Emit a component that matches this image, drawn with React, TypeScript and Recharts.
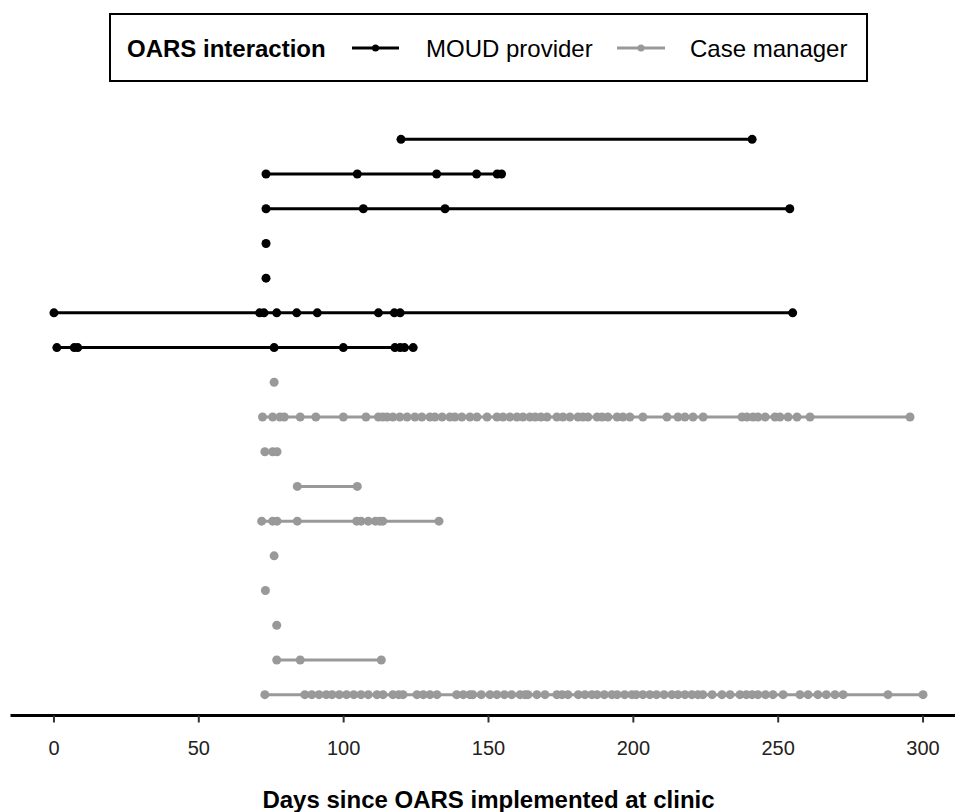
import React from 'react';
import { LineChart, Line, XAxis, YAxis, Label } from 'recharts';

const FONT = '"Liberation Sans", Arial, Helvetica, sans-serif';

const seriesNames = ['MOUD provider', 'Case manager'];
const seriesColors = ['#000000', '#999999'];
const legendTitle = 'OARS interaction';
const xTicks = [0, 50, 100, 150, 200, 250, 300];
const xLabel = 'Days since OARS implemented at clinic';

// MOUD provider rows (top to bottom)
const moud1 = [119.8, 241];
const moud2 = [73.2, 104.7, 132.1, 145.9, 153, 154.5];
const moud3 = [73.2, 106.8, 135, 254];
const moud4 = [73.2];
const moud5 = [73.2];
const moud6 = [0, 71, 72.5, 76.9, 83.8, 90.9, 112, 117.5, 119.5, 255];
const moud7 = [1, 7, 8.2, 76, 99.9, 117.7, 119.5, 121, 124];

// Case manager rows (top to bottom)
const case1 = [76];
const case2 = [
  72, 75.5, 78, 79.5, 85, 90.4, 99.9, 107.7, 112, 113.5, 115, 117, 119.4, 121.9,
  124.6, 127, 129.8, 131.5, 134, 136.7, 138.4, 140.8, 143.6, 146, 149.5, 152.9,
  155, 157.4, 159.8, 161.9, 164.3, 166.1, 168.1, 170.2, 173.6, 175.7, 178.1,
  180.9, 182.6, 184.3, 187.5, 189.2, 191.2, 194.4, 196.4, 198.8, 203.3, 211.6,
  215.4, 217.8, 220.6, 224.1, 237.5, 239.2, 241.3, 243, 245.5, 248.9, 250.6,
  253.4, 256.5, 261, 295.5,
];
const case3 = [72.8, 75.5, 77];
const case4 = [84, 104.7];
const case5 = [71.7, 75.5, 77, 84, 104.5, 106, 108.5, 111, 112.5, 113.5, 132.9];
const case6 = [76];
const case7 = [73];
const case8 = [76.9];
const case9 = [76.9, 85, 113];
const case10 = [
  72.8, 86.6, 89, 91.5, 94, 96, 98.5, 101, 103.5, 106, 108.5, 111.5, 113.6, 117,
  119, 120.5, 125.3, 127.5, 129.8, 132.2, 139, 141.3, 143.6, 144.6, 147.5, 150.5,
  152.9, 155.5, 158, 160.9, 162.6, 163.6, 166.7, 169.5, 173.6, 175.4, 177.4, 181,
  183.3, 185.7, 187.5, 190, 192.6, 194.4, 197, 199.5, 201, 203.3, 205.7, 208,
  210.6, 213.3, 215.4, 217.8, 220.2, 222.3, 224, 227.2, 230.6, 233.4, 236.8, 239,
  241, 243, 245.6, 248.2, 251.7, 257.5, 260.3, 263.7, 266.6, 269.6, 272.4, 287.9,
  300,
];

const moudRows = [moud1, moud2, moud3, moud4, moud5, moud6, moud7];
const caseRows = [case1, case2, case3, case4, case5, case6, case7, case8, case9, case10];

const allRows = [
  ...moudRows.map((r) => ({ days: r, group: 0 })),
  ...caseRows.map((r) => ({ days: r, group: 1 })),
];
const nRows = allRows.length;

const rowSeries = allRows.map((row, i) => ({
  key: `row${i}`,
  color: seriesColors[row.group],
  data: row.days.map((d) => ({ x: d, y: nRows - i })),
}));

const Legend = () => (
  <svg
    width={955}
    height={100}
    style={{ position: 'absolute', left: 0, top: 0, pointerEvents: 'none' }}
  >
    <rect x={110} y={14} width={757} height={67} fill="#fff" stroke="#000" strokeWidth={2} />
    <text x={127} y={57} fontFamily={FONT} fontSize={24} fontWeight="bold" fill="#000">
      {legendTitle}
    </text>
    <line x1={352} x2={399} y1={48} y2={48} stroke={seriesColors[0]} strokeWidth={3} />
    <circle cx={375.5} cy={48} r={3.5} fill={seriesColors[0]} />
    <text x={426} y={57} fontFamily={FONT} fontSize={24} fill="#000">
      {seriesNames[0]}
    </text>
    <line x1={617} x2={665} y1={48} y2={48} stroke={seriesColors[1]} strokeWidth={3} />
    <circle cx={641} cy={48} r={3.5} fill={seriesColors[1]} />
    <text x={690} y={57} fontFamily={FONT} fontSize={24} fill="#000">
      {seriesNames[1]}
    </text>
  </svg>
);

export default function App() {
  return (
    <div
      style={{
        position: 'absolute',
        left: 0,
        top: 0,
        width: 955,
        height: 812,
        overflow: 'hidden',
        background: '#fff',
      }}
    >
      <LineChart
        width={977}
        height={812}
        margin={{ top: 118.5, right: 10.5, bottom: 0, left: 10.5 }}
      >
        <XAxis
          type="number"
          dataKey="x"
          domain={[-15, 315]}
          ticks={xTicks}
          allowDataOverflow
          height={96.5}
          tickSize={7}
          tickMargin={18}
          axisLine={{ stroke: '#000', strokeWidth: 3 }}
          tickLine={{ stroke: '#333', strokeWidth: 2 }}
          tick={{ fill: '#222', fontSize: 20, fontFamily: FONT }}
        >
          <Label
            value={xLabel}
            position="insideBottom"
            offset={4}
            style={{ fontFamily: FONT, fontSize: 24, fontWeight: 'bold', fill: '#000' }}
          />
        </XAxis>
        <YAxis type="number" dataKey="y" domain={[0.4, nRows + 0.6]} hide allowDataOverflow />
        {rowSeries.map((s) => (
          <Line
            key={s.key}
            data={s.data}
            dataKey="y"
            stroke={s.color}
            strokeWidth={3}
            dot={{ r: 4.5, fill: s.color, stroke: s.color, strokeWidth: 0 }}
            activeDot={false}
            isAnimationActive={false}
          />
        ))}
      </LineChart>
      <Legend />
    </div>
  );
}
